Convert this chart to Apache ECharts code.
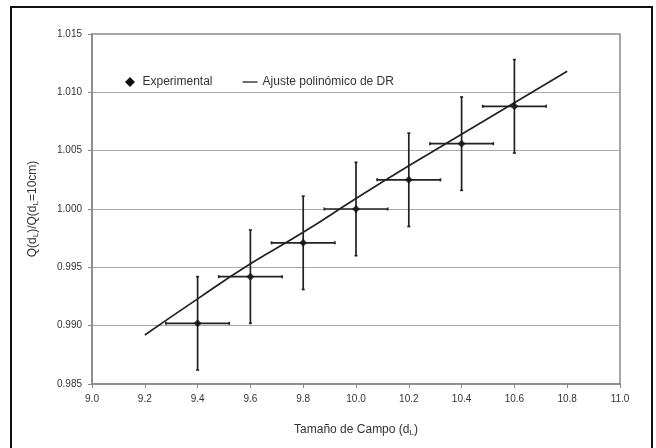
<!DOCTYPE html>
<html>
<head>
<meta charset="utf-8">
<script src="https://cdn.jsdelivr.net/npm/echarts@6/dist/echarts.min.js"></script>
<style>
  html, body { margin: 0; padding: 0; background: #fff; }
  #chart { width: 656px; height: 448px; }
</style>
</head>
<body>
<div id="chart"></div>
<script>
// Field size (cm) and measured output-factor ratio
const fieldSize = [9.4, 9.6, 9.8, 10.0, 10.2, 10.4, 10.6];
const ratio     = [0.9902, 0.9942, 0.9971, 1.0000, 1.0025, 1.0056, 1.0088];
const errX      = [0.12, 0.12, 0.12, 0.12, 0.12, 0.12, 0.12];
const errY      = [0.004, 0.004, 0.004, 0.004, 0.004, 0.004, 0.004];

// Polynomial fit curve (DR)
const fitX = [9.2, 9.4, 9.6, 9.8, 10.0, 10.2, 10.4, 10.6, 10.8];
const fitY = [0.9892, 0.9923, 0.9953, 0.9980, 1.0009, 1.0037, 1.0064, 1.0091, 1.0118];

const xTicks = ['9.0', '9.2', '9.4', '9.6', '9.8', '10.0', '10.2', '10.4', '10.6', '10.8', '11.0'];
const yTicks = ['0.985', '0.990', '0.995', '1.000', '1.005', '1.010', '1.015'];

const expData = fieldSize.map((x, i) => [x, ratio[i], errX[i], errY[i]]);
const fitData = fitX.map((x, i) => [x, fitY[i]]);

const chart = echarts.init(document.getElementById('chart'), null, { renderer: 'canvas' });

const textColor = '#333';
const fontFamily = '"Liberation Sans", Arial, sans-serif';

// Horizontal and vertical error bars around each measurement
function renderCross(params, api) {
  const x = api.value(0), y = api.value(1), ex = api.value(2), ey = api.value(3);
  const l = api.coord([x - ex, y]), r = api.coord([x + ex, y]);
  const t = api.coord([x, y + ey]), b = api.coord([x, y - ey]);
  const style = { stroke: '#222', lineWidth: 1.7 };
  const cap = 1.5;
  return {
    type: 'group',
    children: [
      { type: 'line', shape: { x1: l[0], y1: l[1], x2: r[0], y2: r[1] }, style },
      { type: 'line', shape: { x1: t[0], y1: t[1], x2: b[0], y2: b[1] }, style },
      { type: 'line', shape: { x1: t[0] - cap, y1: t[1], x2: t[0] + cap, y2: t[1] }, style },
      { type: 'line', shape: { x1: b[0] - cap, y1: b[1], x2: b[0] + cap, y2: b[1] }, style },
      { type: 'line', shape: { x1: l[0], y1: l[1] - cap, x2: l[0], y2: l[1] + cap }, style },
      { type: 'line', shape: { x1: r[0], y1: r[1] - cap, x2: r[0], y2: r[1] + cap }, style }
    ]
  };
}

chart.setOption({
  backgroundColor: '#fff',
  animation: false,
  textStyle: { fontFamily },
  graphic: [
    {
      type: 'rect',
      shape: { x: 11, y: 7, width: 641, height: 460 },
      style: { fill: 'none', stroke: '#111', lineWidth: 2 },
      silent: true
    }
  ],
  legend: {
    top: 71,
    left: 120,
    itemGap: 30,
    itemWidth: 15,
    itemHeight: 10,
    symbolKeepAspect: true,
    textStyle: { fontSize: 12, color: textColor, fontFamily },
    data: [
      { name: 'Experimental', icon: 'path://M5,0 L10,5 L5,10 L0,5 Z', itemStyle: { color: '#111' } },
      { name: 'Ajuste polinómico de DR', icon: 'path://M0,5 L16,5 L16,6.3 L0,6.3 Z', itemStyle: { color: '#111' } }
    ]
  },
  grid: { left: 92, top: 34, right: 36, bottom: 64, show: true, borderColor: '#888', borderWidth: 1.5 },
  xAxis: {
    type: 'value',
    min: 9.0,
    max: 11.0,
    interval: 0.2,
    name: '{n|Tamaño de Campo (d}{s|L}{n|)}',
    nameLocation: 'middle',
    nameGap: 38,
    nameTextStyle: {
      rich: {
        n: { fontSize: 12, color: textColor, fontFamily },
        s: { fontSize: 8, color: textColor, fontFamily, padding: [7, 0, 0, 0] }
      }
    },
    axisLine: { show: true, lineStyle: { color: '#888', width: 1.5 } },
    axisTick: { show: true, length: 4, inside: false, lineStyle: { color: '#888' } },
    splitLine: { show: false },
    axisLabel: {
      margin: 10,
      fontSize: 10,
      color: textColor,
      formatter: (v) => xTicks[Math.round((v - 9.0) / 0.2)] ?? ''
    }
  },
  yAxis: {
    type: 'value',
    min: 0.985,
    max: 1.015,
    interval: 0.005,
    name: '{n|Q(d}{s|L}{n|)/Q(d}{s|L}{n|=10cm)}',
    nameLocation: 'middle',
    nameGap: 52,
    nameRotate: 90,
    nameTextStyle: {
      rich: {
        n: { fontSize: 12, color: textColor, fontFamily },
        s: { fontSize: 8, color: textColor, fontFamily, padding: [7, 0, 0, 0] }
      }
    },
    axisLine: { show: true, lineStyle: { color: '#888', width: 1.5 } },
    axisTick: { show: true, length: 4, inside: false, lineStyle: { color: '#888' } },
    splitLine: { show: true, lineStyle: { color: '#aaa', width: 1.2 } },
    axisLabel: {
      margin: 10,
      fontSize: 10,
      color: textColor,
      formatter: (v) => yTicks[Math.round((v - 0.985) / 0.005)] ?? ''
    }
  },
  series: [
    {
      name: 'Ajuste polinómico de DR',
      type: 'line',
      data: fitData,
      smooth: true,
      showSymbol: false,
      symbol: 'none',
      lineStyle: { color: '#222', width: 1.7 },
      itemStyle: { color: '#111' },
      z: 3
    },
    {
      name: 'Experimental',
      type: 'custom',
      data: expData,
      renderItem: renderCross,
      encode: { x: 0, y: 1 },
      itemStyle: { color: '#111' },
      z: 4
    },
    {
      name: 'Experimental',
      type: 'scatter',
      data: expData.map(d => [d[0], d[1]]),
      symbol: 'diamond',
      symbolSize: 8,
      itemStyle: { color: '#111' },
      z: 5
    }
  ]
});
</script>
</body>
</html>
